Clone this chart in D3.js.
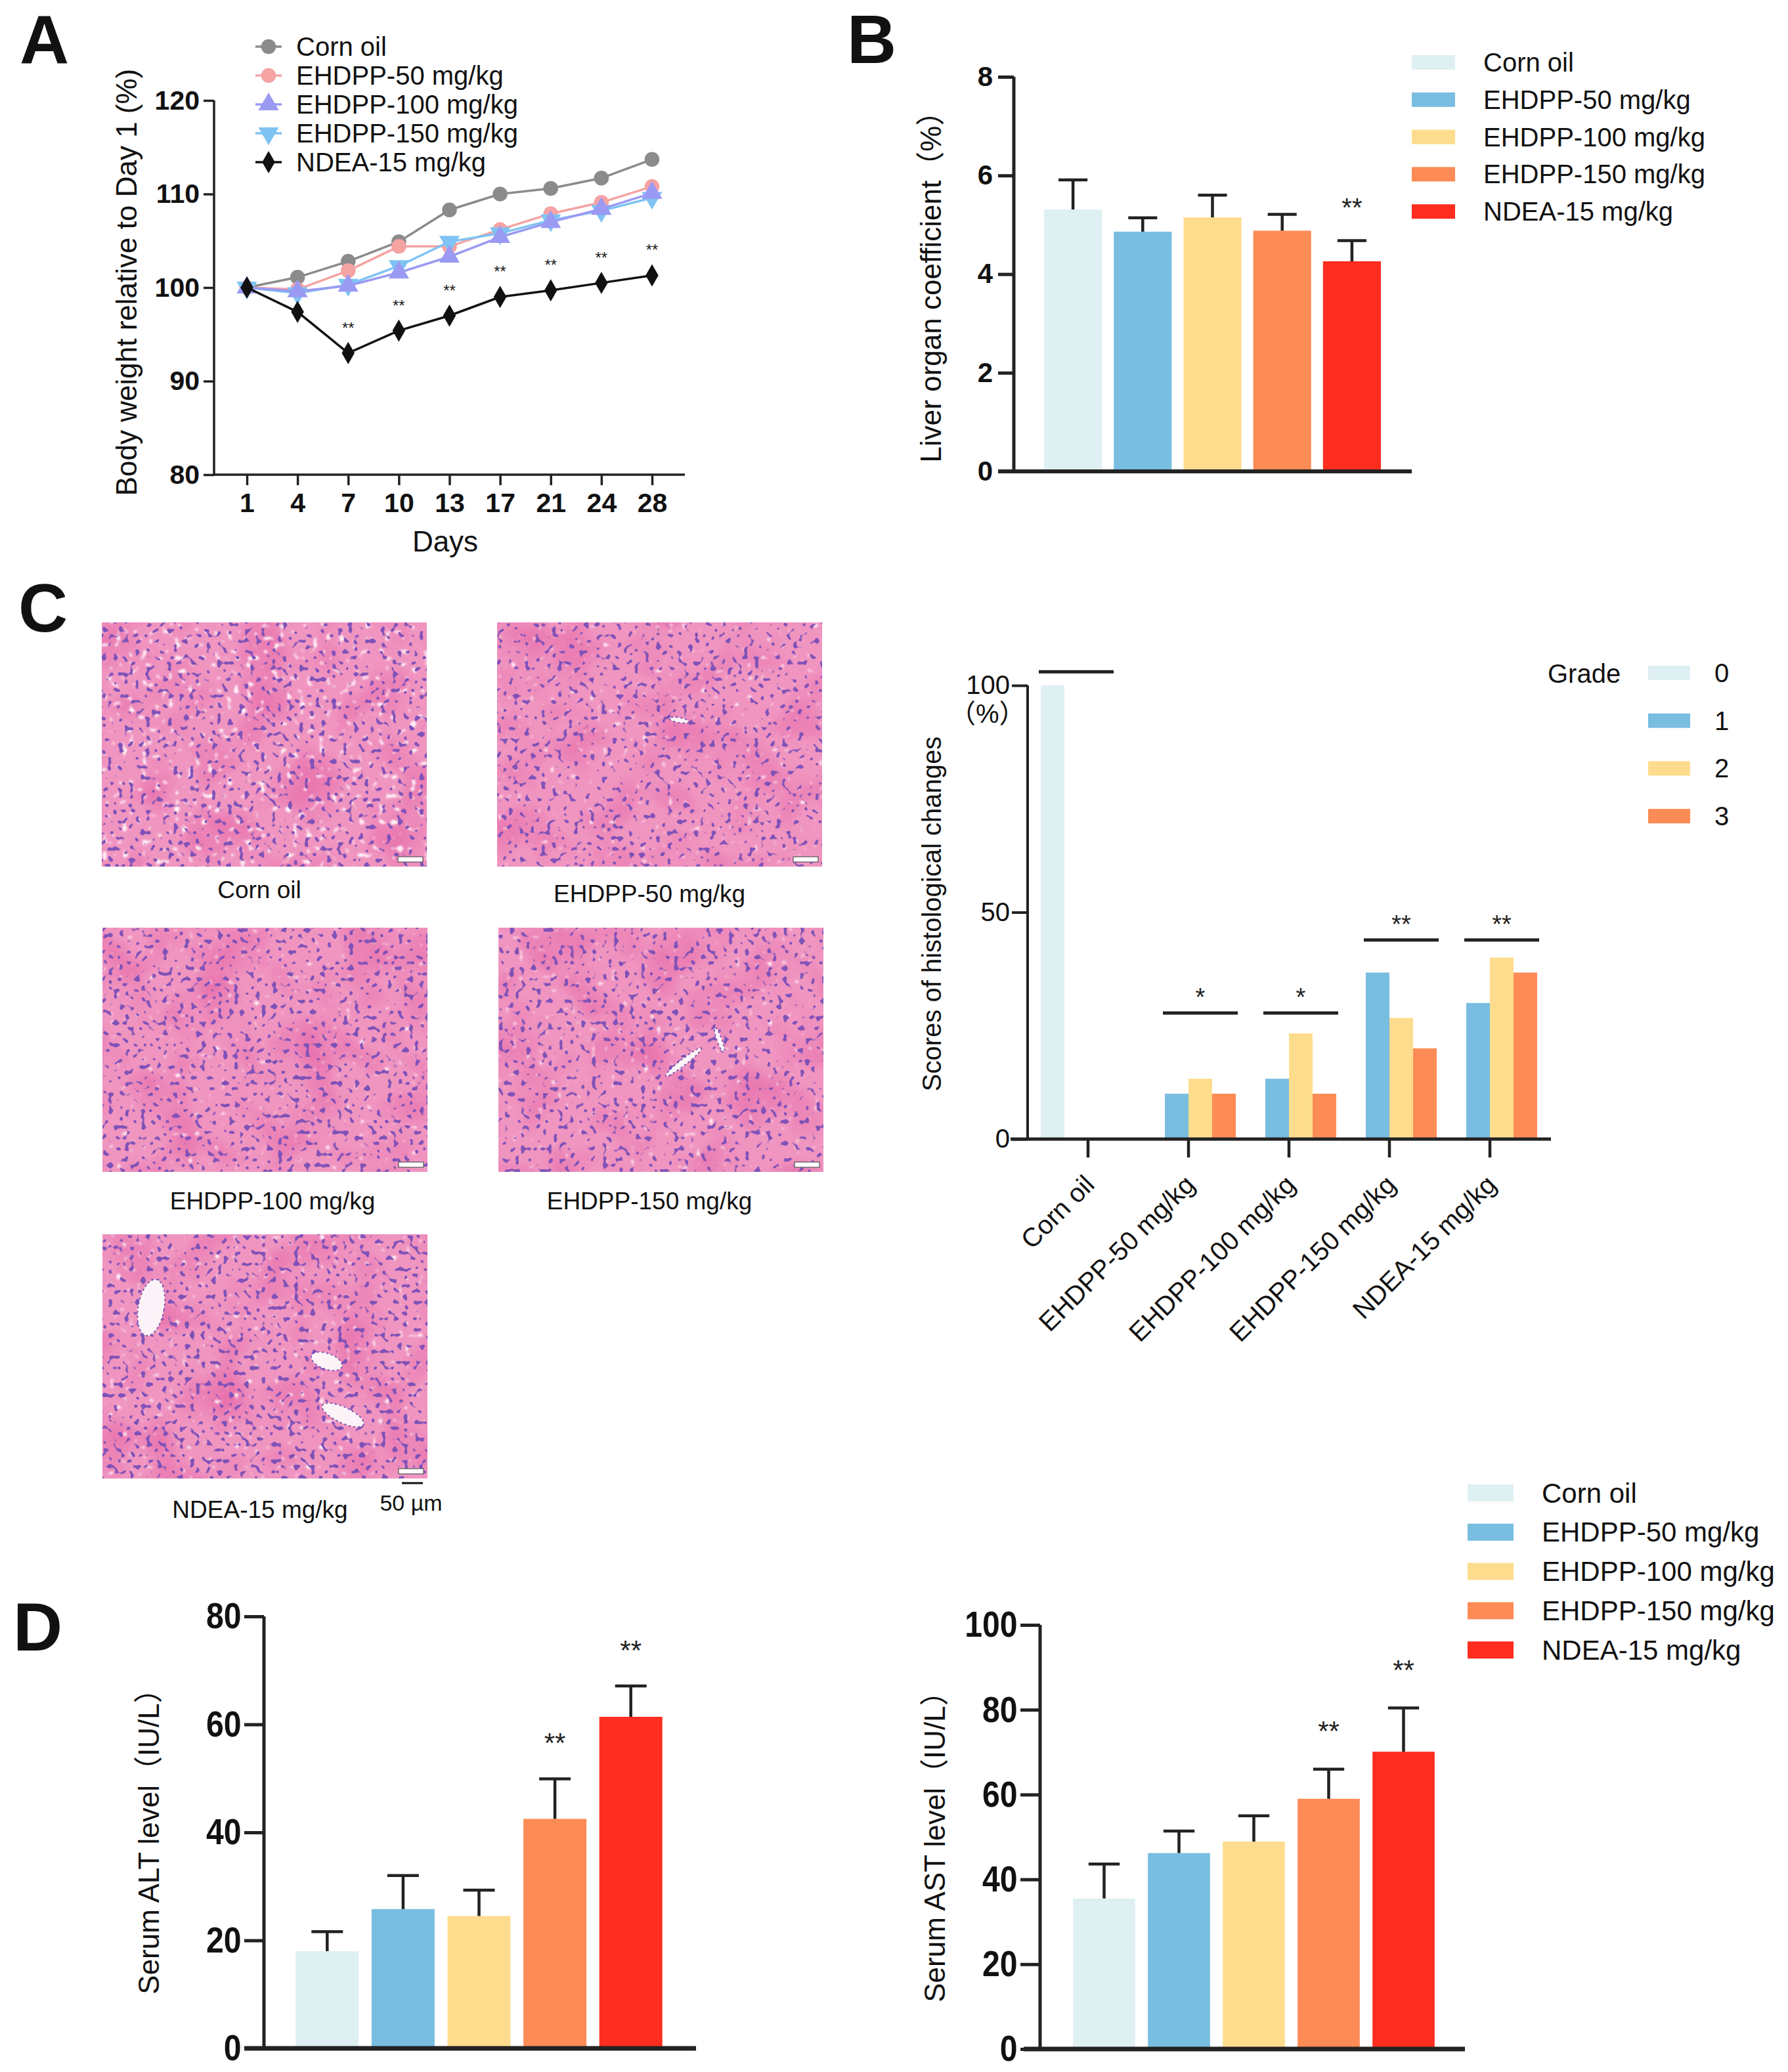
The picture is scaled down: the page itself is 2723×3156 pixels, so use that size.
<!DOCTYPE html>
<html>
<head>
<meta charset="utf-8">
<script src="https://cdn.jsdelivr.net/npm/d3@7"></script>
<style>
  body { margin: 0; background: #fff; }
  svg { display: block; font-family: "Liberation Sans", Arial, "Noto Sans CJK SC", sans-serif; }
</style>
</head>
<body>
<svg id="fig"></svg>
<script>
// ---- data ----
const days = ["1", "4", "7", "10", "13", "17", "21", "24", "28"];
const cornOilBW  = [100, 101.1, 102.8, 104.9, 108.3, 110.0, 110.6, 111.7, 113.7];
const ehdpp50BW  = [100, 99.8, 101.8, 104.4, 104.4, 106.2, 107.9, 109.1, 110.8];
const ehdpp100BW = [100, 99.6, 100.2, 101.6, 103.3, 105.4, 107.0, 108.4, 110.1];
const ehdpp150BW = [100, 99.4, 100.3, 102.3, 104.9, 105.8, 107.2, 108.2, 109.6];
const ndeaBW     = [100, 97.4, 93.0, 95.4, 97.0, 99.0, 99.7, 100.5, 101.3];
const bwStars    = ["", "", "**", "**", "**", "**", "**", "**", "**"];

const groups = ["Corn oil", "EHDPP-50 mg/kg", "EHDPP-100 mg/kg", "EHDPP-150 mg/kg", "NDEA-15 mg/kg"];

const liverMean  = [5.31, 4.86, 5.15, 4.88, 4.26];
const liverSD    = [0.60, 0.28, 0.45, 0.33, 0.42];
const liverStars = ["", "", "", "", "**"];

const grades = ["0", "1", "2", "3"];
const histoScores = [
  [100, 0, 0, 0],
  [0, 10, 13.3, 10],
  [0, 13.3, 23.3, 10],
  [0, 36.7, 26.7, 20],
  [0, 30, 40, 36.7]
];
const histoSigLevel = [103, 27.8, 27.8, 43.9, 43.9];
const histoSig = ["", "*", "*", "**", "**"];

const altMean  = [18.0, 25.8, 24.5, 42.5, 61.4];
const altSD    = [3.6, 6.2, 4.8, 7.4, 5.7];
const altStars = ["", "", "", "**", "**"];
const astMean  = [35.5, 46.2, 48.9, 59.0, 70.1];
const astSD    = [8.1, 5.2, 6.1, 7.0, 10.3];
const astStars = ["", "", "", "**", "**"];

// ---- styles ----
const groupColors = ["#dff0f3", "#79bde0", "#fddd8d", "#fd8b55", "#fe2d1f"];
const gradeColors = ["#dff0f3", "#79bde0", "#fddd8d", "#fd8b55"];
const lineColors  = ["#8b8b8b", "#f5a3a3", "#9a9af3", "#7ec3f3", "#111111"];
const ink = "#222";

const W = 2723, H = 3156;
const svg = d3.select("#fig").attr("width", W).attr("height", H);
svg.append("rect").attr("width", W).attr("height", H).attr("fill", "#fff");
const defs = svg.append("defs");

function addText(g, x, y, s, o = {}) {
  const t = g.append("text")
    .attr("x", x).attr("y", y)
    .attr("font-size", o.size || 40)
    .attr("font-weight", o.weight || "normal")
    .attr("text-anchor", o.anchor || "start")
    .attr("fill", o.fill || "#111")
    .text(s);
  if (o.baseline) t.attr("dominant-baseline", o.baseline);
  if (o.rotate) t.attr("transform", `rotate(${o.rotate},${x},${y})`);
  return t;
}

function styleAxis(g, o) {
  g.select(".domain").remove();
  g.selectAll(".tick line").attr("stroke", ink).attr("stroke-width", o.stroke);
  g.selectAll(".tick text")
    .attr("font-size", o.size)
    .attr("font-weight", o.weight)
    .attr("fill", "#111")
    .attr("font-family", null);
}

// panel letters
addText(svg, 30, 96, "A", { size: 104, weight: "bold" });
addText(svg, 1290, 96, "B", { size: 104, weight: "bold" });
addText(svg, 28, 962, "C", { size: 104, weight: "bold" });
addText(svg, 20, 2514, "D", { size: 104, weight: "bold" });

// ================= Panel A : body weight =================
{
  const g = svg.append("g");
  const xA = d3.scalePoint().domain(days).range([376, 993]);
  const yA = d3.scaleLinear().domain([80, 120]).range([723, 153]);

  const yAx = g.append("g").attr("transform", "translate(326,0)")
    .call(d3.axisLeft(yA).tickValues([80, 90, 100, 110, 120]).tickSize(16).tickPadding(6).tickSizeOuter(0));
  styleAxis(yAx, { stroke: 3.5, size: 41, weight: "bold" });
  const xAx = g.append("g").attr("transform", "translate(0,723)")
    .call(d3.axisBottom(xA).tickSize(16).tickPadding(12));
  styleAxis(xAx, { stroke: 3.5, size: 41, weight: "bold" });
  g.append("line").attr("x1", 326).attr("x2", 1043).attr("y1", 723).attr("y2", 723)
    .attr("stroke", ink).attr("stroke-width", 3.5);
  g.append("line").attr("x1", 326).attr("x2", 326).attr("y1", yA(120)).attr("y2", 724.5)
    .attr("stroke", ink).attr("stroke-width", 3.5);

  addText(g, 678, 824, "Days", { size: 44, anchor: "middle", baseline: "central" });
  addText(g, 192, 430, "Body weight relative to Day 1 (%)", { size: 44, anchor: "middle", baseline: "central", rotate: -90 });

  const series = [
    { name: "Corn oil", v: cornOilBW, sym: d3.symbolCircle, size: 400 },
    { name: "EHDPP-50 mg/kg", v: ehdpp50BW, sym: d3.symbolCircle, size: 400 },
    { name: "EHDPP-150 mg/kg", v: ehdpp150BW, sym: d3.symbolTriangle, size: 420, flip: true },
    { name: "EHDPP-100 mg/kg", v: ehdpp100BW, sym: d3.symbolTriangle, size: 420 },
    { name: "NDEA-15 mg/kg", v: ndeaBW, sym: d3.symbolDiamond, size: 330 }
  ];
  const colorOf = name => lineColors[groups.indexOf(name)];
  const line = d3.line().x((d, i) => xA(days[i])).y(d => yA(d));

  series.forEach(s => {
    const c = colorOf(s.name);
    g.append("path").datum(s.v).attr("d", line)
      .attr("fill", "none").attr("stroke", c).attr("stroke-width", 3.5);
    g.selectAll(null).data(s.v).join("path")
      .attr("d", d3.symbol(s.sym, s.size))
      .attr("transform", (d, i) => `translate(${xA(days[i])},${yA(d)})${s.flip ? " rotate(180)" : ""}`)
      .attr("fill", c);
  });

  g.selectAll(null).data(bwStars).join("text")
    .attr("x", (d, i) => xA(days[i]))
    .attr("y", (d, i) => yA(ndeaBW[i]) - 30)
    .attr("text-anchor", "middle").attr("font-size", 24).attr("fill", "#222")
    .text(d => d);

  // legend (order as in figure)
  const legSyms = [
    { sym: d3.symbolCircle, size: 400 },
    { sym: d3.symbolCircle, size: 400 },
    { sym: d3.symbolTriangle, size: 420 },
    { sym: d3.symbolTriangle, size: 420, flip: true },
    { sym: d3.symbolDiamond, size: 330 }
  ];
  groups.forEach((name, i) => {
    const s = legSyms[i];
    const y = 71 + i * 44;
    const c = lineColors[i];
    g.append("line").attr("x1", 389).attr("x2", 429).attr("y1", y).attr("y2", y)
      .attr("stroke", c).attr("stroke-width", 3.5);
    g.append("path").attr("d", d3.symbol(s.sym, s.size)())
      .attr("transform", `translate(409,${y})${s.flip ? " rotate(180)" : ""}`).attr("fill", c);
    addText(g, 451, y, name, { size: 40, baseline: "central" });
  });
}

// ================= generic bar chart with SD =================
function barChart(o) {
  const g = svg.append("g");
  const x = d3.scaleBand().domain(groups).range(o.xRange).paddingInner(0.17).paddingOuter(0.085);
  const y = d3.scaleLinear().domain(o.yDomain).range(o.yRange);

  g.selectAll(null).data(o.mean).join("rect")
    .attr("x", (d, i) => x(groups[i]))
    .attr("width", x.bandwidth())
    .attr("y", d => y(d))
    .attr("height", d => y(0) - y(d))
    .attr("fill", (d, i) => groupColors[i]);

  const eb = g.selectAll(null).data(o.mean).join("g")
    .attr("transform", (d, i) => `translate(${x(groups[i]) + x.bandwidth() / 2},0)`);
  eb.append("line").attr("y1", d => y(d)).attr("y2", (d, i) => y(d + o.sd[i]))
    .attr("stroke", ink).attr("stroke-width", o.eStroke);
  eb.append("line").attr("x1", -x.bandwidth() / 4).attr("x2", x.bandwidth() / 4)
    .attr("y1", (d, i) => y(d + o.sd[i])).attr("y2", (d, i) => y(d + o.sd[i]))
    .attr("stroke", ink).attr("stroke-width", o.eStroke);
  eb.append("text")
    .attr("y", (d, i) => y(d + o.sd[i]) - o.starGap)
    .attr("text-anchor", "middle").attr("dominant-baseline", "central")
    .attr("font-size", o.starSize).attr("fill", "#222")
    .text((d, i) => o.stars[i]);

  const yAx = g.append("g").attr("transform", `translate(${o.axisX},0)`)
    .call(d3.axisLeft(y).tickValues(o.ticks).tickSize(o.tickLen).tickPadding(o.tickPad).tickSizeOuter(0));
  styleAxis(yAx, { stroke: o.axStroke, size: o.tickSize, weight: "bold" });
  if (o.squeeze) yAx.selectAll(".tick text")
    .attr("transform", `scale(${o.squeeze},1)`);
  g.append("line").attr("x1", o.axisX).attr("x2", o.axisX)
    .attr("y1", y(o.yDomain[1])).attr("y2", y(0))
    .attr("stroke", ink).attr("stroke-width", o.axStroke);
  g.append("line").attr("x1", o.baseX[0]).attr("x2", o.baseX[1])
    .attr("y1", y(0)).attr("y2", y(0))
    .attr("stroke", ink).attr("stroke-width", o.baseStroke);

  addText(g, o.label[0], o.label[1], o.label[2], { size: o.labelSize, anchor: "middle", baseline: "central", rotate: -90 });
  return g;
}

function groupLegend(x, y0, dy, sw, sh, tx, size) {
  const g = svg.append("g");
  groups.forEach((name, i) => {
    const y = y0 + i * dy;
    g.append("rect").attr("x", x).attr("y", y - sh / 2).attr("width", sw).attr("height", sh)
      .attr("fill", groupColors[i]);
    addText(g, tx, y, name, { size, baseline: "central" });
  });
}

// ================= Panel B : liver coefficient =================
barChart({
  mean: liverMean, sd: liverSD, stars: liverStars,
  xRange: [1581, 2112], yDomain: [0, 8], yRange: [718, 117], ticks: [0, 2, 4, 6, 8],
  axisX: 1544, tickLen: 24, tickPad: 8, tickSize: 42, axStroke: 5,
  baseX: [1520, 2150], baseStroke: 6, eStroke: 4.5, starGap: 50, starSize: 40,
  label: [1417, 426, "Liver organ coefficient（%）"], labelSize: 44
});
groupLegend(2150, 95, 56.8, 66, 22, 2259, 40);

// ================= Panel D : ALT / AST =================
barChart({
  mean: altMean, sd: altSD, stars: altStars,
  xRange: [440.5, 1018.5], yDomain: [0, 80], yRange: [3120, 2462], ticks: [0, 20, 40, 60, 80],
  axisX: 402, tickLen: 30, tickPad: 10, tickSize: 56, axStroke: 5, squeeze: 0.86,
  baseX: [372, 1060], baseStroke: 7, eStroke: 4.5, starGap: 55, starSize: 42,
  label: [226, 2794, "Serum ALT level（IU/L）"], labelSize: 44
});
barChart({
  mean: astMean, sd: astSD, stars: astStars,
  xRange: [1624.5, 2194.5], yDomain: [0, 100], yRange: [3121, 2475], ticks: [0, 20, 40, 60, 80, 100],
  axisX: 1584, tickLen: 30, tickPad: 10, tickSize: 56, axStroke: 5, squeeze: 0.86,
  baseX: [1559, 2231], baseStroke: 7, eStroke: 4.5, starGap: 58, starSize: 42,
  label: [1423, 2802, "Serum AST level（IU/L）"], labelSize: 44
});
groupLegend(2235, 2274, 59.8, 70, 26, 2348, 42);

// ================= Panel C : histology grades =================
{
  const g = svg.append("g");
  const x0 = d3.scaleBand().domain(groups).range([1580.5, 2345.5]);
  const x1 = d3.scaleBand().domain(grades).range([4.5, 148.5]);
  const y = d3.scaleLinear().domain([0, 100]).range([1735, 1044]);

  const cat = g.selectAll(null).data(histoScores).join("g")
    .attr("transform", (d, i) => `translate(${x0(groups[i])},0)`);
  cat.selectAll("rect").data(d => d).join("rect")
    .attr("x", (d, j) => x1(grades[j]))
    .attr("width", x1.bandwidth())
    .attr("y", d => y(d))
    .attr("height", d => y(0) - y(d))
    .attr("fill", (d, j) => gradeColors[j]);

  // significance bars spanning the non-zero grades
  cat.each(function (d, i) {
    const first = d.findIndex(v => v > 0);
    const xs = x1(grades[first]) - 3;
    const xe = xs + 3 * x1.bandwidth() + 6;
    const sel = d3.select(this);
    sel.append("line").attr("x1", xs).attr("x2", xe)
      .attr("y1", y(histoSigLevel[i])).attr("y2", y(histoSigLevel[i]))
      .attr("stroke", ink).attr("stroke-width", 5);
    sel.append("text").attr("x", (xs + xe) / 2).attr("y", y(histoSigLevel[i]) - 24)
      .attr("text-anchor", "middle").attr("dominant-baseline", "central")
      .attr("font-size", 38).attr("fill", "#222").text(histoSig[i]);
  });

  const yAx = g.append("g").attr("transform", "translate(1565,0)")
    .call(d3.axisLeft(y).tickValues([0, 50, 100]).tickSize(24).tickPadding(3).tickSizeOuter(0));
  styleAxis(yAx, { stroke: 4, size: 40, weight: "normal" });
  g.append("line").attr("x1", 1565).attr("x2", 1565).attr("y1", y(100)).attr("y2", y(0))
    .attr("stroke", ink).attr("stroke-width", 4);

  const xAx = g.append("g").attr("transform", "translate(0,1735)")
    .call(d3.axisBottom(x0).tickSize(28).tickFormat(""));
  styleAxis(xAx, { stroke: 4.5, size: 40, weight: "normal" });
  g.append("line").attr("x1", 1539).attr("x2", 2362).attr("y1", y(0)).attr("y2", y(0))
    .attr("stroke", ink).attr("stroke-width", 5);

  g.selectAll(null).data(groups).join("text")
    .attr("transform", d => `translate(${x0(d) + x0.bandwidth() / 2 + 12},1807) rotate(-45)`)
    .attr("text-anchor", "end").attr("font-size", 40).attr("fill", "#111")
    .text(d => d);

  addText(g, 1446, 1087, "（%）", { size: 40, baseline: "central" });
  addText(g, 1419, 1392, "Scores of histological changes", { size: 40, anchor: "middle", baseline: "central", rotate: -90 });

  addText(g, 2357, 1026, "Grade", { size: 40, baseline: "central" });
  grades.forEach((k, j) => {
    const yy = 1025 + j * 72.7;
    g.append("rect").attr("x", 2510).attr("y", yy - 11).attr("width", 64).attr("height", 22)
      .attr("fill", gradeColors[j]);
    addText(g, 2611, yy, k, { size: 40, baseline: "central" });
  });
}

// ================= Panel C : H&E micrographs (drawn texture) =================
const slideLayout = [
  { x: 155, y: 948, lx: 395, ly: 1355, seed: 3, vac: 1.0 },
  { x: 757, y: 948, lx: 989, ly: 1361, seed: 7, vac: 0.2 },
  { x: 156, y: 1413, lx: 415, ly: 1829, seed: 11, vac: 0.15 },
  { x: 759, y: 1413, lx: 989, ly: 1829, seed: 17, vac: 0.2 },
  { x: 156, y: 1880, lx: 396, ly: 2299, seed: 23, vac: 0.35 }
];
const slideW = 495, slideH = 372;

function tissueFilter(id, seed, vac) {
  const f = defs.append("filter").attr("id", id)
    .attr("x", 0).attr("y", 0).attr("width", 1).attr("height", 1)
    .attr("color-interpolation-filters", "sRGB");
  f.append("feFlood").attr("flood-color", "#f095c0").attr("result", "base");
  f.append("feTurbulence").attr("type", "fractalNoise").attr("baseFrequency", 0.014)
    .attr("numOctaves", 2).attr("seed", seed + 1).attr("result", "low");
  f.append("feColorMatrix").attr("in", "low").attr("type", "matrix")
    .attr("values", "0 0 0 0 0.91  0 0 0 0 0.45  0 0 0 0 0.68  2.2 0 0 0 -0.95").attr("result", "mott");
  f.append("feTurbulence").attr("type", "fractalNoise").attr("baseFrequency", 0.1)
    .attr("numOctaves", 1).attr("seed", seed + 2).attr("result", "fine");
  f.append("feColorMatrix").attr("in", "fine").attr("type", "matrix")
    .attr("values", `0 0 0 0 1  0 0 0 0 0.94  0 0 0 0 0.97  0 8 0 0 ${-(5.5 - vac * 0.6)}`).attr("result", "vacRaw");
  f.append("feGaussianBlur").attr("in", "vacRaw").attr("stdDeviation", 0.8).attr("result", "vac");
  f.append("feTurbulence").attr("type", "fractalNoise").attr("baseFrequency", 0.12)
    .attr("numOctaves", 1).attr("seed", seed).attr("result", "nz");
  f.append("feColorMatrix").attr("in", "nz").attr("type", "matrix")
    .attr("values", "0 0 0 0 0.50  0 0 0 0 0.32  0 0 0 0 0.72  16 0 0 0 -9.7").attr("result", "nucRaw");
  f.append("feGaussianBlur").attr("in", "nucRaw").attr("stdDeviation", 0.6).attr("result", "nuc");
  const m = f.append("feMerge");
  ["base", "mott", "vac", "nuc"].forEach(r => m.append("feMergeNode").attr("in", r));
}

slideLayout.forEach((s, i) => {
  const id = "he" + i;
  tissueFilter(id, s.seed, s.vac);
  const g = svg.append("g").attr("transform", `translate(${s.x},${s.y})`);
  g.append("rect").attr("width", slideW).attr("height", slideH).attr("fill", "#ef8fbd")
    .attr("filter", `url(#${id})`);
  // tiny scale bar printed inside each micrograph
  g.append("rect").attr("x", slideW - 44).attr("y", slideH - 15).attr("width", 38).attr("height", 8)
    .attr("fill", "#fff").attr("stroke", "#555").attr("stroke-width", 1.2);
  addText(svg, s.lx, s.ly, groups[i], { size: 37, anchor: "middle", baseline: "central" });
});

// vessels / lumens seen in some sections (fractions of the slide box)
const lumens = [
  { s: 1, cx: 0.56, cy: 0.40, rx: 0.03, ry: 0.008, rot: 10 },
  { s: 3, cx: 0.57, cy: 0.55, rx: 0.07, ry: 0.010, rot: -38 },
  { s: 3, cx: 0.68, cy: 0.46, rx: 0.04, ry: 0.008, rot: 70 },
  { s: 4, cx: 0.15, cy: 0.30, rx: 0.04, ry: 0.09, rot: 10 },
  { s: 4, cx: 0.69, cy: 0.52, rx: 0.05, ry: 0.025, rot: 20 },
  { s: 4, cx: 0.74, cy: 0.74, rx: 0.07, ry: 0.025, rot: 25 }
];
lumens.forEach(l => {
  const s = slideLayout[l.s];
  const cx = s.x + l.cx * slideW, cy = s.y + l.cy * slideH;
  svg.append("ellipse").attr("cx", cx).attr("cy", cy)
    .attr("rx", l.rx * slideW).attr("ry", l.ry * slideH * 1.3)
    .attr("transform", `rotate(${l.rot},${cx},${cy})`)
    .attr("fill", "#fbf3f7").attr("stroke", "#7a55b0").attr("stroke-width", 2).attr("stroke-dasharray", "3 4");
});

// external 50 µm scale bar
svg.append("line").attr("x1", 612).attr("x2", 644).attr("y1", 2259).attr("y2", 2259)
  .attr("stroke", "#111").attr("stroke-width", 3);
addText(svg, 626, 2289, "50 µm", { size: 34, anchor: "middle", baseline: "central" });
</script>
</body>
</html>
